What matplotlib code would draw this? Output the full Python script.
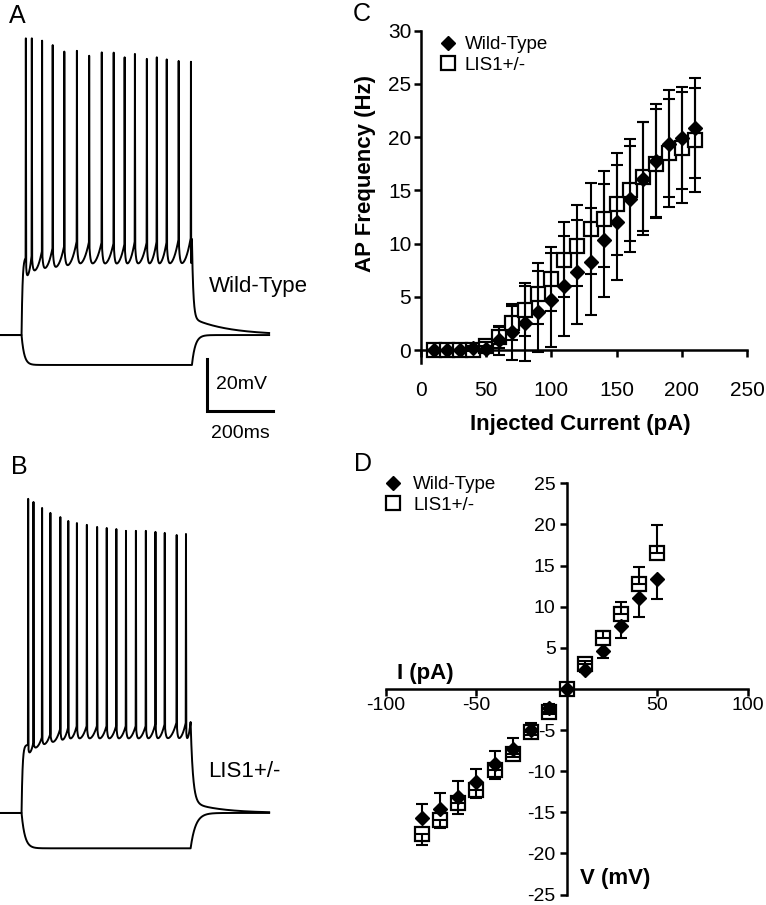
import numpy as np
import matplotlib
matplotlib.use("Agg")
import matplotlib.pyplot as plt

plt.rcParams['font.family'] = ['Liberation Sans', 'DejaVu Sans']
plt.rcParams['axes.unicode_minus'] = False

# === Panel A / B: spike trains (times in ms, voltages in mV) ===
v_rest = -70.0
wt_spike_t = [78, 96, 127, 159, 194, 232, 269, 307, 343, 376, 407, 443, 473, 503, 539, 576]
wt_spike_v = [44.1, 44.1, 43.2, 41.5, 39.0, 39.3, 37.4, 38.7, 38.6, 36.8, 38.1, 36.2, 36.8, 36.0, 35.4, 35.1]
wt_base = [-39.9, -38.6, -37.3, -36.1, -35.4, -33.5, -33.8, -34.0, -34.3, -34.6, -33.5, -34.0, -33.5, -33.8, -32.8, -32.2]
wt_trough = [-47.6, -45.7, -44.8, -44.4, -43.8, -43.1, -43.1, -43.1, -43.1, -43.1, -43.1, -43.1, -43.1, -43.1, -43.1, -43.1]

lis_spike_t = [85, 101, 127, 152, 182, 206, 232, 262, 293, 322, 351, 380, 410, 440, 469, 497, 533, 561]
lis_spike_v = [50.8, 49.6, 47.3, 45.4, 43.8, 42.3, 41.5, 40.8, 40.0, 39.6, 39.2, 38.5, 38.5, 38.5, 38.1, 37.7, 36.9, 37.3]
lis_base = [-43.8, -42.6, -40.6, -39.4, -37.4, -36.8, -36.2, -36.2, -36.2, -36.2, -36.2, -36.2, -36.2, -36.2, -35.5, -35.5, -34.9, -34.9]
lis_trough = [-47.0, -45.1, -43.8, -43.0, -42.2, -41.7, -41.7, -41.7, -41.7, -41.7, -41.7, -41.7, -41.7, -41.7, -41.7, -41.7, -41.7, -41.7]

# === Panel C: AP frequency vs injected current ===
current = [10, 20, 30, 40, 50, 60, 70, 80, 90, 100, 110, 120, 130, 140, 150, 160, 170, 180, 190, 200, 210]
wt_freq = [0, 0, 0, 0.15, 0.1, 0.9, 1.7, 2.5, 3.6, 4.7, 6.0, 7.3, 8.3, 10.3, 12.0, 14.2, 16.1, 17.8, 19.4, 19.9, 20.9]
wt_freq_err = [0, 0, 0, 0.2, 0.3, 1.4, 2.6, 3.5, 3.8, 4.4, 4.7, 4.9, 5.0, 5.3, 5.4, 5.0, 5.3, 5.3, 5.0, 4.8, 4.7]
lis_freq = [0, 0, 0, 0, 0.4, 1.2, 2.5, 3.8, 5.3, 6.7, 8.5, 9.8, 11.4, 12.3, 13.7, 15.0, 16.3, 17.5, 18.5, 19.0, 19.7]
lis_freq_err = [0, 0, 0, 0, 0.4, 1.0, 1.6, 2.5, 2.9, 3.0, 3.5, 3.8, 4.3, 4.5, 4.8, 4.8, 5.1, 5.1, 5.1, 5.2, 4.9]

# === Panel D: I-V relation ===
voltage = [-80, -70, -60, -50, -40, -30, -20, -10, 0, 10, 20, 30, 40, 50]
wt_i = [-15.7, -14.6, -13.1, -11.3, -9.1, -7.3, -5.0, -2.3, 0, 2.3, 4.6, 7.7, 11.0, 13.4]
wt_i_err = [1.7, 2.0, 1.9, 1.6, 1.5, 1.3, 0.9, 0.5, 0, 0.3, 0.8, 1.5, 2.3, 2.5]
lis_i = [-17.7, -15.9, -13.9, -12.3, -9.9, -7.9, -5.2, -2.8, 0, 3.0, 6.2, 9.1, 12.7, 16.5]
lis_i_err = [1.3, 1.0, 1.3, 1.0, 1.0, 0.4, 0.4, 0.3, 0, 0.4, 0.9, 1.5, 2.1, 3.4]


def spiking_trace(t, t_on, t_off, spk_t, spk_v, base, trough, v_after, tau_fast, tau_slow):
    v = np.full_like(t, v_rest)
    m = (t >= t_on) & (t < spk_t[0])
    v[m] = v_rest + (base[0] - v_rest) * (1 - np.exp(-(t[m] - t_on) / 3.0))
    for i in range(len(spk_t)):
        t0 = spk_t[i]
        t1 = spk_t[i + 1] if i + 1 < len(spk_t) else t_off
        nxt = base[i + 1] if i + 1 < len(base) else base[-1]
        m = (t >= t0) & (t < t1)
        u = (t[m] - t0) / (t1 - t0)
        v[m] = trough[i] + (base[i] - trough[i]) * np.exp(-u / 0.08) + (nxt - trough[i]) * u ** 2.5
    v_off = v[(t < t_off)][-1]
    for ts, pk in zip(spk_t, spk_v):
        m = np.abs(t - ts) < 0.8
        v[m] = v[m] + (pk - v[m]) * (1 - np.abs(t[m] - ts) / 0.8)
    m = t >= t_off
    dt = t[m] - t_off
    v[m] = v_rest + (v_after - v_rest) * np.exp(-dt / tau_slow) + (v_off - v_after) * np.exp(-dt / tau_fast)
    return v


def hyper_trace(t, t_on, t_off, dv, tau_on, tau_off):
    v = np.full_like(t, v_rest)
    m = (t >= t_on) & (t < t_off)
    v[m] = v_rest + dv * (1 - np.exp(-(t[m] - t_on) / tau_on))
    v_off = v[m][-1]
    m = t >= t_off
    v[m] = v_rest + (v_off - v_rest) * np.exp(-(t[m] - t_off) / tau_off)
    return v


W, H = 766, 905
fig = plt.figure(figsize=(W / 100, H / 100), dpi=100)


def px_axes(x0, y0, x1, y1):
    return fig.add_axes([x0 / W, 1 - y1 / H, (x1 - x0) / W, (y1 - y0) / H])


t = np.arange(0, 812, 0.1)

# --- A ---
ax_a = px_axes(0, 20, 300, 450)
ax_a.plot(t, spiking_trace(t, 65, 579, wt_spike_t, wt_spike_v, wt_base, wt_trough, -63.5, 4, 110),
          color='black', lw=1.4)
ax_a.plot(t, hyper_trace(t, 65, 579, -11.5, 8, 10), color='black', lw=1.4)
ax_a.set_xlim(0, 905)
ax_a.set_ylim(-114.2, 51.15)
ax_a.axis('off')
ax_a.plot([623.6, 623.6, 823.6], [-79.2, -99.2, -99.2], color='black', lw=2.2, solid_joinstyle='miter')
ax_a.text(652, -89.2, "20mV", fontsize=14, ha='left', va='center')
ax_a.text(724, -107.7, "200ms", fontsize=14, ha='center', va='center')
ax_a.text(630, -51.2, "Wild-Type", fontsize=16, ha='left', va='center')

# --- B ---
ax_b = px_axes(0, 470, 300, 905)
ax_b.plot(t, spiking_trace(t, 65, 575, lis_spike_t, lis_spike_v, lis_base, lis_trough, -66, 7, 90),
          color='black', lw=1.4)
ax_b.plot(t, hyper_trace(t, 65, 575, -13.6, 10, 15), color='black', lw=1.4)
ax_b.set_xlim(0, 905)
ax_b.set_ylim(-105.4, 61.9)
ax_b.axis('off')
ax_b.text(627, -54.2, "LIS1+/-", fontsize=16, ha='left', va='center')

# --- C ---
ax_c = px_axes(421, 30.7, 747, 362.8)
sq_c, = ax_c.plot(current, lis_freq, 's', ms=9.5, mfc='white', mec='black', mew=1.6, zorder=3,
                  clip_on=False, label='LIS1+/-')
ax_c.errorbar(current, lis_freq, yerr=lis_freq_err, fmt='none', ecolor='black', elinewidth=1.5,
              capsize=4.5, capthick=1.5, zorder=4)
ax_c.errorbar(current, wt_freq, yerr=wt_freq_err, fmt='none', ecolor='black', elinewidth=1.5,
              capsize=4.5, capthick=1.5, zorder=4)
dm_c, = ax_c.plot(current, wt_freq, 'D', ms=7.5, color='black', zorder=5, clip_on=False, label='Wild-Type')
ax_c.set_xlim(0, 250)
ax_c.set_ylim(-1.2, 30)
for s in ['top', 'right']:
    ax_c.spines[s].set_visible(False)
ax_c.spines['bottom'].set_position(('data', 0))
for s in ['left', 'bottom']:
    ax_c.spines[s].set_linewidth(1.8)
ax_c.set_xticks(range(0, 251, 50))
ax_c.set_yticks(range(0, 31, 5))
ax_c.tick_params(axis='both', width=1.8, length=5, labelsize=15)
ax_c.tick_params(axis='x', pad=17)
ax_c.tick_params(axis='y', pad=2)
ax_c.legend(handles=[dm_c, sq_c], loc='upper left', bbox_to_anchor=(0.054, 0.984), frameon=False,
            fontsize=13.5, handlelength=1.0, handletextpad=0.4, labelspacing=0.2, borderpad=0,
            borderaxespad=0, numpoints=1)
fig.text(580 / W, 1 - 424 / H, "Injected Current (pA)", fontsize=16, fontweight='bold',
         ha='center', va='center')
fig.text(366 / W, 1 - 173.5 / H, "AP Frequency (Hz)", fontsize=16, fontweight='bold',
         ha='center', va='center', rotation=90)

# --- D ---
ax_d = px_axes(386, 483.3, 747.7, 894.5)
v_arr = np.array(voltage)
wt_arr = np.array(wt_i)
lis_arr = np.array(lis_i)
wt_e = np.array(wt_i_err)
lis_e = np.array(lis_i_err)
wt_yerr = [np.where(wt_arr > 0, wt_e, 0), np.where(wt_arr < 0, wt_e, 0)]
lis_yerr = [np.where(lis_arr < 0, lis_e, 0), np.where(lis_arr > 0, lis_e, 0)]
sq_d, = ax_d.plot(voltage, lis_i, 's', ms=9.5, mfc='white', mec='black', mew=1.6, zorder=3,
                  label='LIS1+/-')
ax_d.errorbar(voltage, lis_i, yerr=lis_yerr, fmt='none', ecolor='black', elinewidth=1.5,
              capsize=4.3, capthick=1.5, zorder=4)
ax_d.errorbar(voltage, wt_i, yerr=wt_yerr, fmt='none', ecolor='black', elinewidth=1.5,
              capsize=4.3, capthick=1.5, zorder=4)
dm_d, = ax_d.plot(voltage, wt_i, 'D', ms=7, color='black', zorder=5, label='Wild-Type')
ax_d.set_xlim(-100, 100)
ax_d.set_ylim(-25, 25)
for s in ['top', 'right']:
    ax_d.spines[s].set_visible(False)
ax_d.spines['bottom'].set_position(('data', 0))
ax_d.spines['left'].set_position(('data', 0))
for s in ['left', 'bottom']:
    ax_d.spines[s].set_linewidth(1.8)
ax_d.set_xticks([-100, -50, 50, 100])
ax_d.set_yticks([-25, -20, -15, -10, -5, 5, 10, 15, 20, 25])
ax_d.tick_params(axis='both', width=1.8, length=5, labelsize=14)
ax_d.tick_params(axis='x', pad=1)
ax_d.tick_params(axis='y', pad=3)
ax_d.legend(handles=[dm_d, sq_d], loc='upper left', bbox_to_anchor=(-0.0066, 1.0177), frameon=False,
            fontsize=13.5, handlelength=1.0, handletextpad=0.57, labelspacing=0.2, borderpad=0,
            borderaxespad=0, numpoints=1)
fig.text(425 / W, 1 - 673 / H, "I (pA)", fontsize=16, fontweight='bold', ha='center', va='center')
fig.text(615 / W, 1 - 878 / H, "V (mV)", fontsize=16, fontweight='bold', ha='center', va='center')

# panel letters
for letter, (x, y) in zip("ABCD", [(17.5, 16), (19, 467), (362, 14), (363, 464)]):
    fig.text(x / W, 1 - y / H, letter, fontsize=18, ha='center', va='center')

fig.savefig("out.png", dpi=100)
